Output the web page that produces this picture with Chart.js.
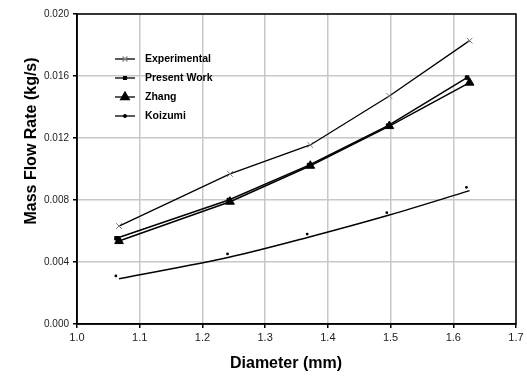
<!DOCTYPE html>
<html><head><meta charset="utf-8">
<script src="https://cdn.jsdelivr.net/npm/chart.js@4/dist/chart.umd.min.js"></script>
<style>html,body{margin:0;padding:0;background:#fff}#wrap{width:527px;height:378px}</style>
</head><body><div id="wrap"><canvas id="c" width="527" height="378"></canvas></div>
<script>
const seriesNames = ['Experimental','Present Work','Zhang','Koizumi'];
const xTicks = [1.0,1.1,1.2,1.3,1.4,1.5,1.6,1.7];
const yTicks = [0.000,0.004,0.008,0.012,0.016,0.020];
const expDiameter = [1.067,1.244,1.372,1.498,1.626];
const experimental = [0.00632,0.00968,0.01155,0.01471,0.01828];
const presentDiameter = [1.063,1.242,1.370,1.496,1.622];
const presentWork = [0.00553,0.00800,0.01025,0.01280,0.01590];
const zhangDiameter = [1.067,1.244,1.372,1.498,1.626];
const zhang = [0.00535,0.00789,0.01021,0.01277,0.01557];
const koizumiDiameter = [1.062,1.240,1.367,1.494,1.621];
const koizumi = [0.00310,0.00452,0.00580,0.00718,0.00882];
const koizumiFitDiameter = [1.067,1.244,1.372,1.498,1.626];
const koizumiFit = [0.00292,0.00432,0.00563,0.00703,0.00860];

const pts = (xs, ys) => xs.map((x,i)=>({x, y: ys[i]}));

const legendPlugin = {
  id:'customLegend',
  afterDraw(chart){
    const ctx = chart.ctx;
    const items = [
      {name: seriesNames[0], style:'crossRot', r:3.5, color:'#888'},
      {name: seriesNames[1], style:'rect', r:2, color:'#000'},
      {name: seriesNames[2], style:'triangle', r:5, color:'#000'},
      {name: seriesNames[3], style:'circle', r:1.3, color:'#000'}
    ];
    const x0 = 115, x1 = 135, tx = 145;
    const ys = [59, 78, 97, 116];
    ctx.save();
    items.forEach((it,i)=>{
      const y = ys[i];
      ctx.strokeStyle = '#000'; ctx.lineWidth = 1.3;
      ctx.beginPath(); ctx.moveTo(x0,y); ctx.lineTo(x1,y); ctx.stroke();
      ctx.strokeStyle = it.color; ctx.fillStyle = it.color;
      Chart.helpers.drawPoint(ctx, {pointStyle: it.style, radius: it.r, borderWidth: 1}, (x0+x1)/2, y);
      ctx.fillStyle = '#000';
      ctx.font = 'bold 10.5px "Liberation Sans", Arial, sans-serif';
      ctx.textBaseline = 'middle'; ctx.textAlign = 'left';
      ctx.fillText(it.name, tx, y);
    });
    ctx.font = 'bold 16px "Liberation Sans", Arial, sans-serif';
    ctx.textAlign = 'center'; ctx.textBaseline = 'middle';
    ctx.fillText('Diameter (mm)', 286, 364);
    ctx.translate(32, 141); ctx.rotate(-Math.PI/2);
    ctx.fillText('Mass Flow Rate (kg/s)', 0, 0);
    ctx.restore();
  }
};

new Chart(document.getElementById('c'), {
  type:'scatter',
  data:{ datasets:[
    {label: seriesNames[0], data: pts(expDiameter, experimental), showLine:true,
     borderColor:'#000', borderWidth:1.3, pointStyle:'crossRot', pointRadius:4,
     pointBorderColor:'#777', pointBorderWidth:1, pointBackgroundColor:'#777'},
    {label: seriesNames[1], data: pts(presentDiameter, presentWork), showLine:true,
     borderColor:'#000', borderWidth:1.5, pointStyle:'rect', pointRadius:2.5,
     pointBorderColor:'#000', pointBackgroundColor:'#000', pointBorderWidth:1},
    {label: seriesNames[2], data: pts(zhangDiameter, zhang), showLine:true,
     borderColor:'#000', borderWidth:1.5, pointStyle:'triangle', pointRadius:5,
     pointBorderColor:'#000', pointBackgroundColor:'#000', pointBorderWidth:1},
    {label: seriesNames[3], data: pts(koizumiDiameter, koizumi), showLine:false,
     pointStyle:'circle', pointRadius:1.4, pointBorderColor:'#000', pointBackgroundColor:'#000', pointBorderWidth:0},
    {label: seriesNames[3]+' fit', data: pts(koizumiFitDiameter, koizumiFit), showLine:true,
     borderColor:'#000', borderWidth:1.4, pointRadius:0, cubicInterpolationMode:'monotone'}
  ]},
  options:{
    responsive:false, animation:false, devicePixelRatio:1,
    layout:{padding:{left:0,right:11,top:14,bottom:0}},
    plugins:{legend:{display:false}, tooltip:{enabled:false}},
    scales:{
      x:{type:'linear', min:1.0, max:1.7,
        afterBuildTicks: s => { s.ticks = xTicks.map(v=>({value:v})); },
        afterFit: s => { s.height = 54; },
        grid:{color:'#c8c8c8', lineWidth:1.5, drawTicks:true, tickLength:4, tickColor:'#000'},
        border:{color:'#000', width:1.5},
        ticks:{color:'#222', font:{size:11, family:'"Liberation Sans", Arial, sans-serif'}, padding:3,
          callback: v => v.toFixed(1), maxRotation:0}
      },
      y:{type:'linear', min:0, max:0.020,
        afterBuildTicks: s => { s.ticks = yTicks.map(v=>({value:v})); },
        afterFit: s => { s.width = 77; },
        grid:{color:'#c8c8c8', lineWidth:1.5, drawTicks:true, tickLength:4, tickColor:'#000'},
        border:{color:'#000', width:1.5},
        ticks:{color:'#222', font:{size:10, family:'"Liberation Sans", Arial, sans-serif'}, padding:4,
          callback: v => v.toFixed(3)}
      }
    }
  },
  plugins:[{
    id:'box',
    afterDatasetsDraw(chart){
      const {ctx, chartArea:a} = chart;
      ctx.save(); ctx.strokeStyle='#000'; ctx.lineWidth=1.5;
      ctx.strokeRect(a.left, a.top, a.right-a.left, a.bottom-a.top);
      ctx.restore();
    }
  }, legendPlugin]
});
</script></body></html>
